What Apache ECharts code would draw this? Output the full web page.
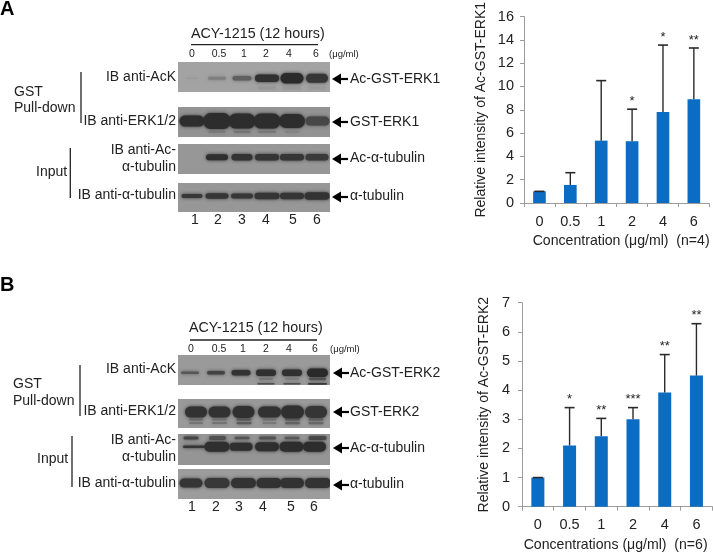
<!DOCTYPE html>
<html><head><meta charset="utf-8">
<style>html,body{margin:0;padding:0;background:#fff}#c{width:713px;height:553px;filter:blur(.4px)}</style>
<script src="https://cdn.jsdelivr.net/npm/echarts@6/dist/echarts.min.js"></script>
</head><body><div id="c"></div>
<script>
// ---------- chart values ----------
const categoriesA = ['0','0.5','1','2','4','6'];
const meansA  = [1, 1.55, 5.35, 5.3, 7.8, 8.9];
const uppersA = [1, 2.6, 10.5, 8.05, 13.55, 13.3];
const starsA  = ['','','','*','*','**'];
const categoriesB = ['0','0.5','1','2','4','6'];
const meansB  = [1, 2.1, 2.42, 3.0, 3.92, 4.5];
const uppersB = [1, 3.4, 3.03, 3.4, 5.22, 6.28];
const starsB  = ['','*','**','***','**','**'];
const laneNumbers = ['1','2','3','4','5','6'];

// band darkness per lane (0 = no band, 1 = saturated)
const a1Main = [.08,.3,.55,.95,1,.9];
const a1Faint= [0,0,0,.1,.1,.08];
const a2Main = [.97,.97,.97,.97,.97,.72];
const a2Faint= [0,.22,.28,.25,.14,0];
const a3Main = [0,.95,.92,.9,.9,.85];
const a4Main = [.88,.9,.88,.9,.9,.92];
const b1Main = [.6,.78,.92,.95,.95,1];
const b1Mid  = [0,0,0,.3,.22,.6];
const b1Low  = [0,0,0,.65,.65,.85];
const b2Main = [.93,.93,.95,.93,.95,.9];
const b2Low1 = [.4,.3,.5,.3,.45,.45];
const b2Low2 = [.35,.35,.55,.3,.5,.45];
const b3Main = [.9,.95,.95,.95,.97,.97];
const b3Up   = [.75,.62,.6,.62,.55,.72];
const b4Main = [.9,.88,.92,.93,.93,.92];

// ---------- layout ----------
const FONT = '"Liberation Sans", Arial, sans-serif';
const TXT = '#222';
const lanes = [1,2,3,4,5,6];
const laneMin = .44, laneMax = 6.52;
const blots = [
  {box:[178,62,152,30], bg:'#a3a3a3', layers:[
    {v:a1Main, y:.54, w:[11,18,19,24,23,22], h:[1.5,3,4.5,7.5,10.5,9]},
    {v:a1Faint, y:.86, w:[0,0,0,18,18,18], h:[3,3,3,3,3,3]}]},
  {box:[178,107,152,30], bg:'#939393', layers:[
    {v:a2Faint, y:.83, w:[0,17,17,18,14,0], h:[2,2,2,2,2,2]},
    {v:a2Main, y:.47, x:[1,2,3,4,5,6.02], w:[25,28,27,27,26,24], h:[11,16,15,15,14,9]}]},
  {box:[178,144,152,30], bg:'#979797', layers:[
    {v:a3Main, y:.44, w:[0,22,21,24,24,23], h:[5,6,6.5,6.5,6.5,6.5]}]},
  {box:[178,183,152,29], bg:'#979797', layers:[
    {v:a4Main, y:.45, w:[21,23,22,25,24,25], h:[4,5.5,5,6.5,6.5,7.5]}]},
  {box:[178,355,152,30], bg:'#9a9a9a', layers:[
    {v:b1Low, y:.96, x:[1,2,3,3.96,5,6.02], w:[0,0,0,17,17,19], h:[1.6,1.6,1.6,1.6,1.6,1.8]},
    {v:b1Mid, y:.8, x:[1,2,3,3.96,5,6.02], w:[0,0,0,14,14,17], h:[2,2,2,2,2,2.5]},
    {v:b1Main, y:.59, x:[.92,1.96,2.96,3.96,5,6.02], w:[18,18,19,20,20,21], h:[2.5,3.5,5.5,6.5,6.5,8.5]}]},
  {box:[178,399,152,29], bg:'#999999', layers:[
    {v:b2Low1, y:.71, x:[1.16,2.1,3.08,4.1,5.02,5.96], w:[14,15,15,14,15,15], h:[1.8,1.8,2.2,1.8,2.2,2.2]},
    {v:b2Low2, y:.83, x:[1.16,2.1,3.08,4.1,5.02,5.96], w:[14,15,15,14,15,15], h:[1.8,1.8,2.2,1.8,2.2,2.2]},
    {v:b2Main, y:.45, x:[1.16,2.1,3.06,4.1,5.02,5.96], w:[22,22,22,23,23,22], h:[11,11,12,11,13,12]}]},
  {box:[178,434,152,31], bg:'#959595', layers:[
    {v:b3Up, y:.13, x:[.96,2.02,3,4.02,5,6.02], w:[15,17,15,17,15,18], h:[3,4,2.5,3,2.5,4]},
    {v:b3Main, y:.41, x:[1.08,2,2.96,4,4.98,5.9], w:[22,25,23,24,24,23], h:[2.5,10,8,9,10,10]}]},
  {box:[178,469,152,30], bg:'#9c9c9c', layers:[
    {v:b4Main, y:.47, x:[.96,2,3.06,4.08,5,6.04], w:[23,25,25,25,24,26], h:[9,10,10,10,10,10]}]}
];

const texts = [
  ['A',0,9,20,'left','bold'],['B',0,285,20,'left','bold'],
  ['ACY-1215 (12 hours)',191,34,14.3],['ACY-1215 (12 hours)',189,328,14.3],
  ['(μg/ml)',329,54,9.5],['(μg/ml)',330,349,9.5],
  ['IB anti-AcK',176,77,14,'right'],['IB anti-ERK1/2',176,121,14,'right'],
  ['IB anti-Ac-',176,150,14,'right'],['α-tubulin',176,167,14,'right'],['IB anti-α-tubulin',176,195,14,'right'],
  ['IB anti-AcK',176,369,14,'right'],['IB anti-ERK1/2',176,411,14,'right'],
  ['IB anti-Ac-',176,440,14,'right'],['α-tubulin',176,457,14,'right'],['IB anti-α-tubulin',176,483,14,'right'],
  ['GST',14,92,14],['Pull-down',14,108,14],['Input',36,172,14],
  ['GST',13,384,14],['Pull-down',13,401,14],['Input',37,459,14],
  ['Ac-GST-ERK1',350,79,14],['GST-ERK1',350,122,14],['Ac-α-tubulin',350,158,14],['α-tubulin',350,196,14],
  ['Ac-GST-ERK2',350,373,14],['GST-ERK2',350,412,14],['Ac-α-tubulin',350,448,14],['α-tubulin',350,484,14]
];
const doseXA = [192,219,244,266,289,316], doseXB = [191,219,243,266,289,315];
const laneXA = [195,218,242,266,293,317], laneXB = [192,216,239,263,291,314];
const rules = [[191,44.7,318,44.7,1.3],[190,340,317,340,1.3],
  [81,72,81,123,1.3],[70.3,148,70.3,198,1.3],[80,365,80,416,1.3],[72,436,72,487,1.3]];
const arrowsAt = [[332,79],[332,122],[332,159],[332,197],[333,373],[333,412],[333,448],[333,485]];

// ---------- build ----------
function mix(bg, d){
  const b = parseInt(bg.slice(1,3),16), t = 42;
  const c = Math.round(b + (t-b)*d);
  return 'rgb('+c+','+c+','+c+')';
}
const grids = [], xAxes = [], yAxes = [], series = [];
blots.forEach((b,i)=>{
  grids.push({left:b.box[0],top:b.box[1],width:b.box[2],height:b.box[3],show:true,backgroundColor:b.bg,borderWidth:0});
  xAxes.push({gridIndex:i,type:'value',min:laneMin,max:laneMax,show:false});
  yAxes.push({gridIndex:i,type:'value',min:0,max:1,inverse:true,show:false});
  b.layers.forEach(l=>{
    series.push({type:'custom',xAxisIndex:i,yAxisIndex:i,silent:true,clip:true,
      data:l.v.map((d,k)=>[(l.x||lanes)[k],d,k]),
      renderItem(params,api){
        const d = api.value(1), k = api.value(2);
        if(!d || !l.w[k]) return null;
        const p = api.coord([api.value(0),l.y]), w=l.w[k], h=l.h[k], col=mix(b.bg,d);
        return {type:'rect',shape:{x:p[0]-w/2,y:p[1]-h/2,width:w,height:h,r:h/2},
          style:{fill:col,shadowBlur:3.5,shadowColor:col}};
      }});
  });
});
function barChart(idx, cats, means, uppers, stars, g, yMax, yStep, yName, xName, yGap, xGap, yMargin, xPad, yPad){
  grids.push(g);
  xAxes.push({gridIndex:idx,type:'category',data:cats,boundaryGap:true,
    axisLine:{lineStyle:{color:'#9c9c9c',width:1}},axisTick:{show:true,length:4,alignWithLabel:false,lineStyle:{color:'#9c9c9c'}},
    axisLabel:{color:TXT,fontSize:14.5,fontFamily:FONT,margin:11,interval:0},
    name:xName,nameLocation:'middle',nameGap:xGap,nameTextStyle:{color:TXT,fontSize:14.1,fontFamily:FONT,padding:xPad}});
  yAxes.push({gridIndex:idx,type:'value',min:0,max:yMax,interval:yStep,splitLine:{show:false},
    axisLine:{show:true,lineStyle:{color:'#9c9c9c',width:1}},axisTick:{show:true,length:4,lineStyle:{color:'#9c9c9c'}},
    axisLabel:{color:TXT,fontSize:14.5,fontFamily:FONT,margin:yMargin},
    name:yName,nameLocation:'middle',nameGap:yGap,nameTextStyle:{color:TXT,fontSize:14,fontFamily:FONT,padding:yPad}});
  series.push({type:'bar',xAxisIndex:idx,yAxisIndex:idx,data:means,barWidth:'41%',itemStyle:{color:'#0b6cc4'},silent:true});
  series.push({type:'custom',xAxisIndex:idx,yAxisIndex:idx,silent:true,z:5,
    data:cats.map((c,k)=>[k,means[k],uppers[k],stars[k]]),
    renderItem(params,api){
      const k=api.value(0), a=api.coord([k,api.value(1)]), u=api.coord([k,api.value(2)]), s=stars[k];
      const ls={stroke:'#2a2a2a',lineWidth:1.4};
      const ch=[{type:'line',shape:{x1:a[0],y1:a[1],x2:u[0],y2:u[1]},style:ls},
        {type:'line',shape:{x1:u[0]-5,y1:u[1],x2:u[0]+5,y2:u[1]},style:{stroke:'#2a2a2a',lineWidth:1.6}}];
      if(s) ch.push({type:'text',style:{text:s,x:u[0],y:u[1]-8,align:'center',verticalAlign:'middle',fontSize:13,fontFamily:FONT,fill:'#222'}});
      return {type:'group',children:ch};
    }});
}
barChart(8,categoriesA,meansA,uppersA,starsA,{left:524,right:3.7,top:15.7,bottom:350},16,2,'Relative intensity of Ac-GST-ERK1','Concentration (μg/ml)  (n=4)',36,31,10,[0,0,0,9],[0,0,0,0]);
barChart(9,categoriesB,meansB,uppersB,starsB,{left:522,right:.7,top:302.7,height:204},7,1,'Relative intensity of Ac-GST-ERK2','Concentrations (μg/ml)  (n=6)',31,31,12,[0,3,0,0],[0,0,0,0]);

const graphic = [];
const T=(t,x,y,size,align,weight)=>graphic.push({type:'text',silent:true,x,y,style:{text:t,fontSize:size,fontFamily:FONT,fontWeight:weight||'normal',fill:weight?'#000':TXT,align:align||'left',verticalAlign:'middle'}});
texts.forEach(t=>T(...t));
categoriesA.forEach((c,i)=>T(c,doseXA[i],54,10.5,'center'));
categoriesB.forEach((c,i)=>T(c,doseXB[i],349,10.5,'center'));
laneNumbers.forEach((c,i)=>{T(c,laneXA[i],220,14,'center');T(c,laneXB[i],507,14,'center');});
rules.forEach(r=>graphic.push({type:'line',silent:true,shape:{x1:r[0],y1:r[1],x2:r[2],y2:r[3]},style:{stroke:'#222',lineWidth:r[4]}}));
arrowsAt.forEach(a=>{
  graphic.push({type:'polygon',silent:true,shape:{points:[[a[0],a[1]],[a[0]+9,a[1]-5.5],[a[0]+9,a[1]+5.5]]},style:{fill:'#000'}});
  graphic.push({type:'line',silent:true,shape:{x1:a[0]+8,y1:a[1],x2:a[0]+16,y2:a[1]},style:{stroke:'#000',lineWidth:2.2}});
});

const chart = echarts.init(document.getElementById('c'),null,{renderer:'canvas'});
chart.setOption({animation:false,backgroundColor:'#fff',grid:grids,xAxis:xAxes,yAxis:yAxes,series,graphic});
</script></body></html>
